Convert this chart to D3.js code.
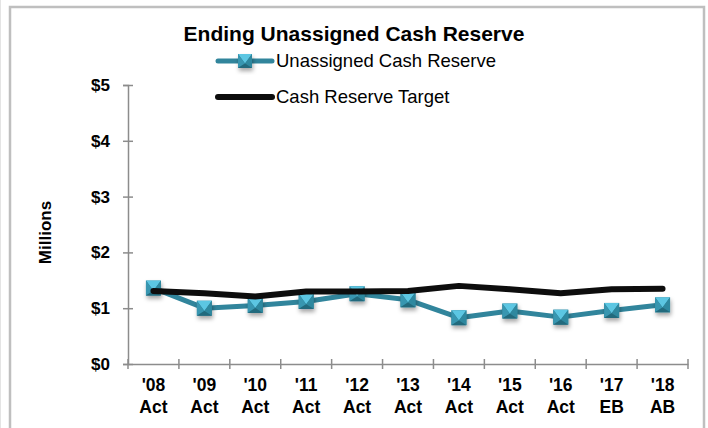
<!DOCTYPE html>
<html>
<head>
<meta charset="utf-8">
<script src="https://cdn.jsdelivr.net/npm/d3@7"></script>
<style>
  body { margin: 0; background: #fff; }
  text { font-family: "Liberation Sans", Arial, sans-serif; }
</style>
</head>
<body>
<div id="chart-area"></div>
<script>
const canvas = { width: 708, height: 428 }
const plot = { left: 128, right: 688, top: 85, bottom: 364 }

// Data
const years = ["'08", "'09", "'10", "'11", "'12", "'13", "'14", "'15", "'16", "'17", "'18"]
const kinds = ['Act', 'Act', 'Act', 'Act', 'Act', 'Act', 'Act', 'Act', 'Act', 'EB', 'AB']
const unassigned = [1.36, 1.00, 1.05, 1.12, 1.26, 1.15, 0.83, 0.95, 0.84, 0.96, 1.06]
const target = [1.31, 1.27, 1.21, 1.30, 1.30, 1.31, 1.40, 1.34, 1.27, 1.34, 1.35]
const yTicks = [0, 1, 2, 3, 4, 5]
const seriesNames = ['Unassigned Cash Reserve', 'Cash Reserve Target']

const teal = '#31859c'
const gray = '#8c8c8c'
const font = '"Liberation Sans", Arial, sans-serif'

const svg = d3.select('#chart-area')
	.append('svg')
		.attr('width', canvas.width)
		.attr('height', canvas.height)

// Shadow for the markers
const defs = svg.append('defs')
const shadow = defs.append('filter')
	.attr('id', 'shadow')
	.attr('x', '-50%').attr('y', '-50%')
	.attr('width', '200%').attr('height', '200%')
shadow.append('feDropShadow')
	.attr('dx', 1).attr('dy', 3)
	.attr('stdDeviation', 2)
	.attr('flood-color', '#000')
	.attr('flood-opacity', 0.35)

// Frame
svg.append('rect')
	.attr('x', 10).attr('y', 7)
	.attr('width', 694).attr('height', 440)
	.attr('fill', 'none')
	.attr('stroke', '#bfbfbf')
	.attr('stroke-width', 2.5)
svg.append('line')
	.attr('x1', 0.5).attr('x2', 0.5)
	.attr('y1', 0).attr('y2', canvas.height)
	.attr('stroke', '#e4e4e4')

// Scales
const x = d3.scaleBand()
	.domain(years)
	.range([plot.left, plot.right])
const y = d3.scaleLinear()
	.domain([0, 5])
	.range([plot.bottom, plot.top])
const cx = d => x(d) + x.bandwidth() / 2

// Y axis
const yAxis = svg.append('g')
	.attr('transform', `translate(${plot.left}, 0)`)
	.call(d3.axisLeft(y).tickValues(yTicks).tickSize(5).tickPadding(13).tickFormat(d => `$${d}`))
yAxis.select('.domain').attr('stroke', gray).attr('stroke-width', 1.5)
yAxis.selectAll('.tick line').attr('x2', 5).attr('x1', -5).attr('stroke', gray).attr('stroke-width', 1.5)
yAxis.selectAll('.tick text')
	.attr('font-size', 17)
	.attr('font-weight', 'bold')
	.attr('fill', '#000')
	.attr('font-family', font)

// X axis: line, boundary ticks, two-line labels
const xAxis = svg.append('g')
	.attr('transform', `translate(0, ${plot.bottom})`)
	.call(d3.axisBottom(x).tickSize(0).tickPadding(0).tickFormat(''))
xAxis.select('.domain').attr('stroke', gray).attr('stroke-width', 1.5)
const bounds = years.map(d => x(d)).concat([plot.right])
xAxis.selectAll('.bound')
	.data(bounds)
	.enter().append('line')
	.attr('x1', d => d).attr('x2', d => d)
	.attr('y1', -5).attr('y2', 5)
	.attr('stroke', gray).attr('stroke-width', 1.5)
xAxis.selectAll('.tick').each(function(d, i) {
	const t = d3.select(this).append('text')
		.attr('text-anchor', 'middle')
		.attr('font-size', 17.5)
		.attr('font-weight', 'bold')
		.attr('font-family', font)
		.attr('fill', '#000')
	t.append('tspan').attr('x', 0).attr('y', 27).text(d)
	t.append('tspan').attr('x', 0).attr('y', 49).text(kinds[i])
})

// Axis title
svg.append('text')
	.attr('transform', `translate(51, ${(plot.top + plot.bottom) / 2 + 8}) rotate(-90)`)
	.attr('text-anchor', 'middle')
	.attr('font-size', 17)
	.attr('font-weight', 'bold')
	.text('Millions')

// Chart title
svg.append('text')
	.attr('x', 354).attr('y', 41)
	.attr('text-anchor', 'middle')
	.attr('font-size', 21)
	.attr('font-weight', 'bold')
	.text('Ending Unassigned Cash Reserve')

// Bevelled square marker
function marker(sel, s) {
	const h = s / 2, k = s * 0.18
	const m = sel.append('g').attr('filter', 'url(#shadow)')
	m.append('rect').attr('x', -h).attr('y', -h).attr('width', s).attr('height', s).attr('fill', '#2b7a8f')
	m.append('polygon').attr('points', `${-h},${-h} ${h},${-h} 0,${k}`).attr('fill', '#5cc6e2')
	m.append('polygon').attr('points', `${-h},${-h} 0,${k} ${-h},${h}`).attr('fill', '#3796b0')
	m.append('polygon').attr('points', `${h},${-h} 0,${k} ${h},${h}`).attr('fill', '#2f889f')
	m.append('polygon').attr('points', `${-h},${h} 0,${k} ${h},${h}`).attr('fill', '#236a7d')
	return m
}

// Lines
const line = d3.line().x((d, i) => cx(years[i])).y(d => y(d))
svg.append('path')
	.datum(unassigned)
	.attr('d', line)
	.attr('fill', 'none')
	.attr('stroke', teal)
	.attr('stroke-width', 5)
	.attr('stroke-linejoin', 'round')

const markers = svg.append('g')
unassigned.forEach((v, i) => {
	const g = markers.append('g').attr('transform', `translate(${cx(years[i])}, ${y(v)})`)
	marker(g, 15)
})

svg.append('path')
	.datum(target)
	.attr('d', line)
	.attr('fill', 'none')
	.attr('stroke', '#0d0d0d')
	.attr('stroke-width', 6)
	.attr('stroke-linejoin', 'round')
	.attr('stroke-linecap', 'round')

// Legend
const legend = svg.append('g').attr('transform', 'translate(218, 0)')
seriesNames.forEach((name, i) => {
	const row = legend.append('g').attr('transform', `translate(0, ${i === 0 ? 61 : 97})`)
	row.append('line')
		.attr('x1', 0).attr('x2', 54)
		.attr('stroke', i === 0 ? teal : '#0d0d0d')
		.attr('stroke-width', i === 0 ? 5 : 6)
		.attr('stroke-linecap', 'round')
	if (i === 0) marker(row.append('g').attr('transform', 'translate(27, 0)'), 14)
	row.append('text')
		.attr('x', 58).attr('y', 6)
		.attr('font-size', 18.5)
		.text(name)
})
</script>
</body>
</html>
